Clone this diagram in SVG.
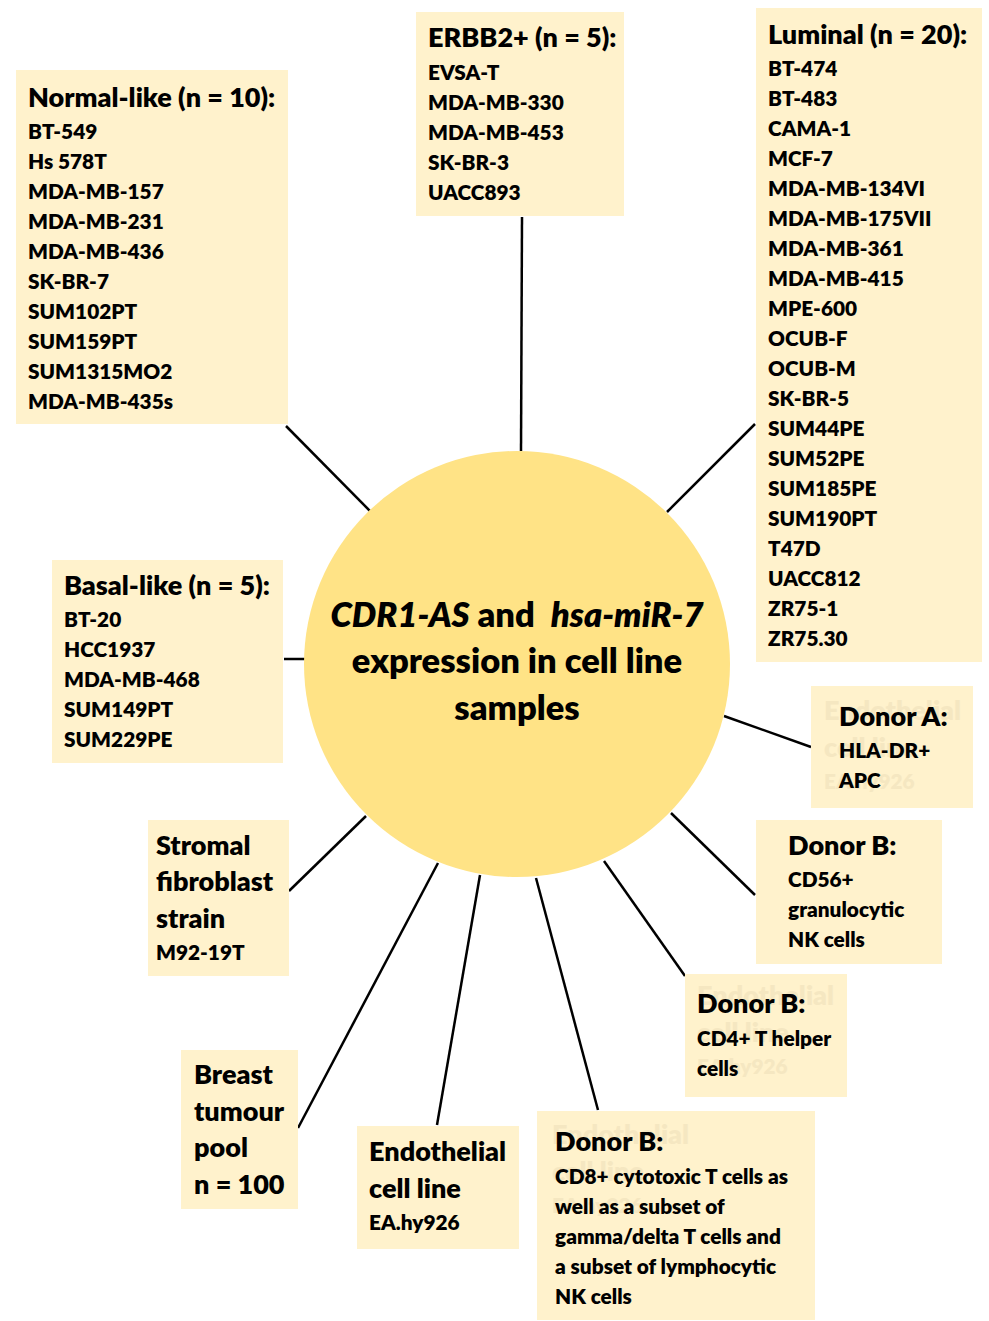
<svg xmlns="http://www.w3.org/2000/svg" width="989" height="1321" viewBox="0 0 989 1321">
<style>
text{font-family:Lato,"Open Sans","Liberation Sans",sans-serif;font-weight:800;fill:#000}
.box{fill:#FFF2CC}
.t{font-size:27px}
.i{font-size:20.8px}
.c{font-size:34.5px}
.g{fill:#F5E7C1}
.con line{stroke:#000;stroke-width:2.5}
</style>
<rect width="989" height="1321" fill="#fff"/>
<g class="con">
<line x1="286" y1="426" x2="370" y2="511"/>
<line x1="522" y1="217" x2="521" y2="451"/>
<line x1="755" y1="424" x2="667" y2="512"/>
<line x1="284" y1="659" x2="305" y2="659"/>
<line x1="289" y1="891" x2="366" y2="816"/>
<line x1="298" y1="1128" x2="438" y2="863"/>
<line x1="437" y1="1125" x2="480" y2="875"/>
<line x1="598" y1="1110" x2="536" y2="878"/>
<line x1="685" y1="976" x2="604" y2="861"/>
<line x1="755" y1="895" x2="671" y2="813"/>
<line x1="811" y1="747" x2="724" y2="716"/>
</g>
<g id="center">
<circle cx="517" cy="664" r="213" fill="#FFE386"/>
<text class="c" x="517" y="627" text-anchor="middle"><tspan font-style="italic">CDR1-AS</tspan> and <tspan dx="8" font-style="italic">hsa-miR-7</tspan></text>
<text class="c" x="517" y="673" text-anchor="middle">expression in cell line</text>
<text class="c" x="517" y="720" text-anchor="middle">samples</text>
</g>
<g id="normal-like">
<rect class="box" x="16" y="70" width="272" height="354"/>
<text class="t" x="28" y="107">Normal-like (n = 10):</text>
<text class="i" x="28" y="139">BT-549</text>
<text class="i" x="28" y="169">Hs 578T</text>
<text class="i" x="28" y="199">MDA-MB-157</text>
<text class="i" x="28" y="229">MDA-MB-231</text>
<text class="i" x="28" y="259">MDA-MB-436</text>
<text class="i" x="28" y="289">SK-BR-7</text>
<text class="i" x="28" y="319">SUM102PT</text>
<text class="i" x="28" y="349">SUM159PT</text>
<text class="i" x="28" y="379">SUM1315MO2</text>
<text class="i" x="28" y="409">MDA-MB-435s</text>
</g>
<g id="erbb2">
<rect class="box" x="416" y="12" width="208" height="204"/>
<text class="t" x="428" y="47">ERBB2+ (n = 5):</text>
<text class="i" x="428" y="80">EVSA-T</text>
<text class="i" x="428" y="110">MDA-MB-330</text>
<text class="i" x="428" y="140">MDA-MB-453</text>
<text class="i" x="428" y="170">SK-BR-3</text>
<text class="i" x="428" y="200">UACC893</text>
</g>
<g id="luminal">
<rect class="box" x="756" y="8" width="226" height="654"/>
<text class="t" x="768" y="44">Luminal (n = 20):</text>
<text class="i" x="768" y="76">BT-474</text>
<text class="i" x="768" y="106">BT-483</text>
<text class="i" x="768" y="136">CAMA-1</text>
<text class="i" x="768" y="166">MCF-7</text>
<text class="i" x="768" y="196">MDA-MB-134VI</text>
<text class="i" x="768" y="226">MDA-MB-175VII</text>
<text class="i" x="768" y="256">MDA-MB-361</text>
<text class="i" x="768" y="286">MDA-MB-415</text>
<text class="i" x="768" y="316">MPE-600</text>
<text class="i" x="768" y="346">OCUB-F</text>
<text class="i" x="768" y="376">OCUB-M</text>
<text class="i" x="768" y="406">SK-BR-5</text>
<text class="i" x="768" y="436">SUM44PE</text>
<text class="i" x="768" y="466">SUM52PE</text>
<text class="i" x="768" y="496">SUM185PE</text>
<text class="i" x="768" y="526">SUM190PT</text>
<text class="i" x="768" y="556">T47D</text>
<text class="i" x="768" y="586">UACC812</text>
<text class="i" x="768" y="616">ZR75-1</text>
<text class="i" x="768" y="646">ZR75.30</text>
</g>
<g id="basal-like">
<rect class="box" x="52" y="560" width="231" height="203"/>
<text class="t" x="64" y="595">Basal-like (n = 5):</text>
<text class="i" x="64" y="627">BT-20</text>
<text class="i" x="64" y="657">HCC1937</text>
<text class="i" x="64" y="687">MDA-MB-468</text>
<text class="i" x="64" y="717">SUM149PT</text>
<text class="i" x="64" y="747">SUM229PE</text>
</g>
<g id="stromal">
<rect class="box" x="148" y="820" width="141" height="156"/>
<text class="t" x="156" y="855">Stromal</text>
<text class="t" x="156" y="891">fibroblast</text>
<text class="t" x="156" y="928">strain</text>
<text class="i" x="156" y="960">M92-19T</text>
</g>
<g id="breast-tumour">
<rect class="box" x="181" y="1050" width="117" height="159"/>
<text class="t" x="194" y="1084">Breast</text>
<text class="t" x="194" y="1121">tumour</text>
<text class="t" x="194" y="1157">pool</text>
<text class="t" x="194" y="1194">n = 100</text>
</g>
<g id="endothelial">
<rect class="box" x="357" y="1126" width="162" height="123"/>
<text class="t" x="369" y="1161">Endothelial</text>
<text class="t" x="369" y="1198">cell line</text>
<text class="i" x="369" y="1230">EA.hy926</text>
</g>
<g id="donor-a">
<rect class="box" x="811" y="686" width="162" height="122"/>
<text class="t g" x="824" y="720">Endothelial</text>
<text class="t g" x="824" y="757">cell line</text>
<text class="i g" x="824" y="789">EA.hy926</text>
<text class="t" x="839" y="726">Donor A:</text>
<text class="i" x="839" y="758">HLA-DR+</text>
<text class="i" x="839" y="788">APC</text>
</g>
<g id="donor-b-cd56">
<rect class="box" x="756" y="820" width="186" height="144"/>
<text class="t" x="788" y="855">Donor B:</text>
<text class="i" x="788" y="887">CD56+</text>
<text class="i" x="788" y="917">granulocytic</text>
<text class="i" x="788" y="947">NK cells</text>
</g>
<g id="donor-b-cd4">
<rect class="box" x="685" y="974" width="162" height="123"/>
<text class="t g" x="697" y="1005">Endothelial</text>
<text class="t g" x="697" y="1042">cell line</text>
<text class="i g" x="697" y="1074">EA.hy926</text>
<text class="t" x="697" y="1013">Donor B:</text>
<text class="i" x="697" y="1046">CD4+ T helper</text>
<text class="i" x="697" y="1076">cells</text>
</g>
<g id="donor-b-cd8">
<rect class="box" x="537" y="1111" width="278" height="209"/>
<text class="t g" x="552" y="1144">Endothelial</text>
<text class="t g" x="552" y="1181">cell line</text>
<text class="i g" x="552" y="1213">EA.hy926</text>
<text class="t" x="555" y="1151">Donor B:</text>
<text class="i" x="555" y="1184">CD8+ cytotoxic T cells as</text>
<text class="i" x="555" y="1214">well as a subset of</text>
<text class="i" x="555" y="1244">gamma/delta T cells and</text>
<text class="i" x="555" y="1274">a subset of lymphocytic</text>
<text class="i" x="555" y="1304">NK cells</text>
</g>
</svg>
